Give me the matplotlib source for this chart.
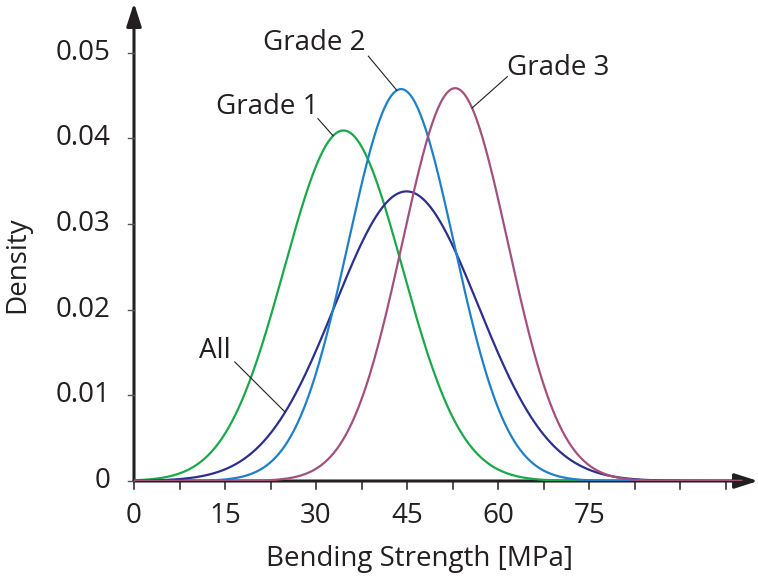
import numpy as np
import matplotlib
matplotlib.use("Agg")
import matplotlib.pyplot as plt

plt.rcParams["font.family"] = ["Open Sans", "DejaVu Sans"]

# normal density curves (mean, std dev in MPa)
names = ["Grade 1", "All", "Grade 2", "Grade 3"]
means = [34.5, 44.9, 44.0, 52.9]
stds = [9.75, 11.8, 8.72, 8.7]
colors = ["#1aa84b", "#2b2f8e", "#1f80c8", "#a4507f"]

x_ticks = [0, 15, 30, 45, 60, 75]
x_minor = [7.5, 22.5, 37.5, 52.5, 67.5, 82.5, 90, 97.5]
y_ticks = [0, 0.01, 0.02, 0.03, 0.04, 0.05]
y_labels = ["0", "0.01", "0.02", "0.03", "0.04", "0.05"]

# label text position and leader line (start point, x where it meets curve)
label_text = {"Grade 1": (21.9, 0.0437), "Grade 2": (29.7, 0.0511),
              "Grade 3": (69.9, 0.0482), "All": (13.3, 0.0152)}
label_start = {"Grade 1": (30.3, 0.0423), "Grade 2": (38.6, 0.0496),
               "Grade 3": (61.5, 0.0472), "All": (16.6, 0.0139)}
label_end_x = {"Grade 1": 32.8, "Grade 2": 43.3, "Grade 3": 55.7, "All": 24.9}


def pdf(x, m, s):
    return np.exp(-0.5 * ((x - m) / s) ** 2) / (s * np.sqrt(2 * np.pi))


fig = plt.figure(figsize=(7.58, 5.76), dpi=100)
ax = fig.add_axes([134 / 758, 95 / 576, 624 / 758, 478 / 576])
xmax, ymax = 102.8, 0.0558
ax.set_xlim(0, xmax)
ax.set_ylim(0, ymax)
ax.axis("off")

xs = np.linspace(0, 100, 600)
for n, m, s, c in zip(names, means, stds, colors):
    ax.plot(xs, pdf(xs, m, s), color=c, lw=1.6, zorder=3)

# axes with arrows
for end in [(xmax, 0), (0, ymax)]:
    ax.annotate("", xy=end, xytext=(0, 0), annotation_clip=False,
                arrowprops=dict(arrowstyle="-|>,head_length=1.4,head_width=0.45",
                                color="#231f20", lw=2.2, shrinkA=0, shrinkB=0), zorder=2)

# ticks
tick_x = 6 / 6.067
tick_y = 8 / 8560
for t in x_ticks + x_minor:
    ax.plot([t, t], [0, -tick_y], color="#231f20", lw=1.1, clip_on=False)
for t in x_ticks:
    ax.text(t, -0.0041, str(t), ha="center", va="center", fontsize=20, color="#231f20")
for t, lab in zip(y_ticks, y_labels):
    ax.plot([0, -tick_x], [t, t], color="#555555", lw=1, clip_on=False)
    ax.text(-3.9, t, lab, ha="right", va="center", fontsize=20, color="#231f20")

ax.text(xmax * 0.457, -0.0091, "Bending Strength [MPa]", ha="center", va="center",
        fontsize=20, color="#231f20", clip_on=False)
ax.text(-19.3, 0.0253, "Density", ha="center", va="center", rotation=90,
        fontsize=20, color="#231f20")

# curve labels with leader lines
for n, m, s in zip(names, means, stds):
    tx, ty = label_text[n]
    sx, sy = label_start[n]
    ex = label_end_x[n]
    ax.text(tx, ty, n, ha="center", va="center", fontsize=20, color="#231f20")
    ax.plot([sx, ex], [sy, pdf(ex, m, s)], color="#231f20", lw=0.8, zorder=4)

fig.savefig("out.png", dpi=100)
